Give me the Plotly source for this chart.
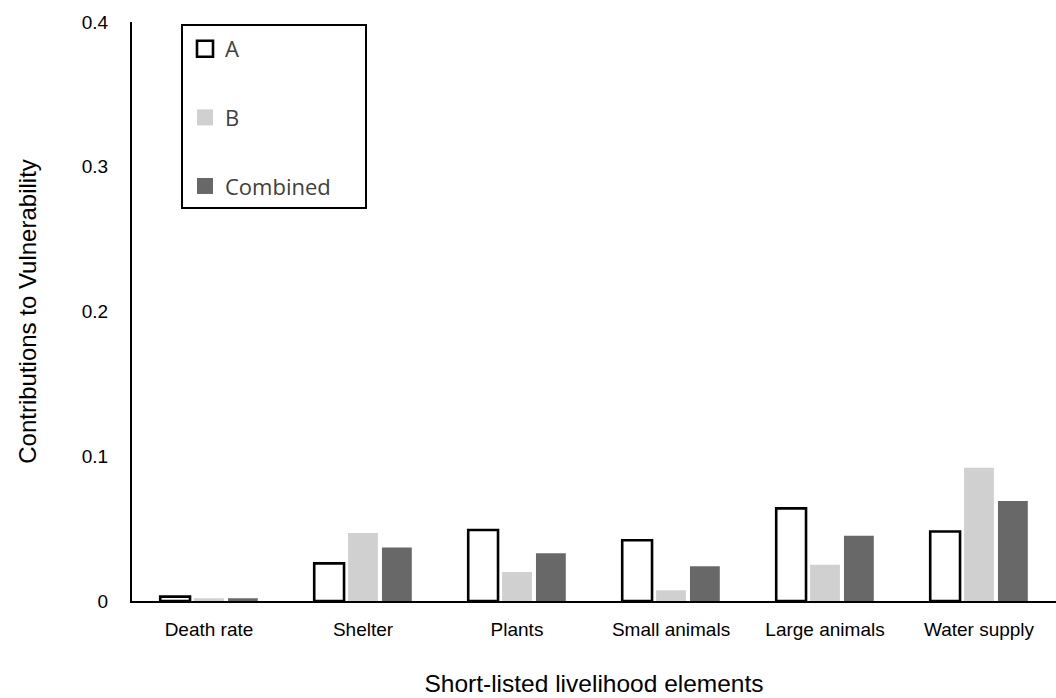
import plotly.graph_objects as go

# Livelihood elements and their contributions to vulnerability
categories = ["Death rate", "Shelter", "Plants", "Small animals", "Large animals", "Water supply"]
series_a = [0.003, 0.026, 0.049, 0.042, 0.064, 0.048]
series_b = [0.0019, 0.047, 0.020, 0.0074, 0.025, 0.092]
series_combined = [0.0019, 0.037, 0.033, 0.024, 0.045, 0.069]
y_ticks = [0, 0.1, 0.2, 0.3, 0.4]

W, H = 1056, 698
M_L, M_R, M_T, M_B = 132, 0, 22, 97
PW, PH = W - M_L - M_R, H - M_T - M_B

COL_B = "#d0d0d0"
COL_C = "#686868"

fig = go.Figure()

fig.add_trace(go.Bar(name="A", x=categories, y=series_a,
                     marker=dict(color="white", line=dict(color="black", width=2.6)),
                     showlegend=False))
fig.add_trace(go.Bar(name="B", x=categories, y=series_b,
                     marker=dict(color=COL_B, line=dict(width=0)),
                     showlegend=False))
fig.add_trace(go.Bar(name="Combined", x=categories, y=series_combined,
                     marker=dict(color=COL_C, line=dict(width=0)),
                     showlegend=False))

# Legend keys with larger square swatches
legend_styles = [
    ("A", "white", "black", 2.6),
    ("B", COL_B, COL_B, 0),
    ("Combined", COL_C, COL_C, 0),
]
for name, fill, edge, lw in legend_styles:
    fig.add_trace(go.Scatter(
        x=[None], y=[None], mode="markers", name=name, legendgroup=name,
        marker=dict(symbol="square", size=16, color=fill, line=dict(color=edge, width=lw)),
    ))

def px_x(p):
    return (p - M_L) / PW

def px_y(p):
    return (H - M_B - p) / PH

fig.update_layout(
    width=W, height=H,
    margin=dict(l=M_L, r=M_R, t=M_T, b=M_B, autoexpand=False),
    paper_bgcolor="white", plot_bgcolor="white",
    barmode="group", bargap=0.34, bargroupgap=0.12,
    font=dict(family="Liberation Sans, Arial, sans-serif", color="black"),
    legend=dict(
        x=px_x(185), y=px_y(28), xanchor="left", yanchor="top",
        bgcolor="rgba(0,0,0,0)", borderwidth=0,
        tracegroupgap=37,
        font=dict(family="Open Sans, sans-serif", size=22, color="#404040"),
    ),
    shapes=[dict(
        type="rect", xref="paper", yref="paper",
        x0=px_x(182), x1=px_x(366), y0=px_y(208), y1=px_y(25),
        line=dict(color="black", width=2), fillcolor="rgba(0,0,0,0)", layer="above",
    )],
)

fig.update_xaxes(
    showline=True, linecolor="black", linewidth=2, showgrid=False, zeroline=False,
    ticks="", tickfont=dict(size=19), ticklabelstandoff=10,
    title=dict(text="Short-listed livelihood elements", font=dict(size=24.5), standoff=36),
    automargin=False,
)
fig.update_yaxes(
    range=[0, 0.4], tickvals=y_ticks, ticktext=["0", "0.1", "0.2", "0.3", "0.4"],
    showline=True, linecolor="black", linewidth=2, showgrid=False, zeroline=False,
    ticks="", tickfont=dict(size=19), ticklabelstandoff=18,
    title=dict(text="Contributions to Vulnerability", font=dict(size=24), standoff=38),
    automargin=False,
)

fig.write_html("out.html")
